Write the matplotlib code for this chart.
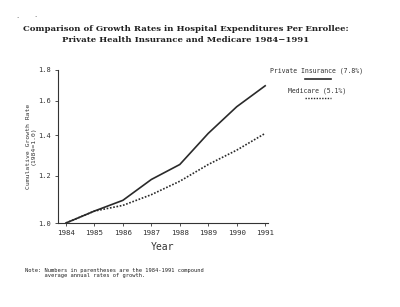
import matplotlib
matplotlib.use("Agg")
import matplotlib.pyplot as plt
from matplotlib.ticker import FixedLocator, NullLocator

years = [1984, 1985, 1986, 1987, 1988, 1989, 1990, 1991]
private_ins = [1.0, 1.047, 1.091, 1.182, 1.252, 1.411, 1.563, 1.694]
medicare = [1.0, 1.047, 1.070, 1.115, 1.174, 1.252, 1.323, 1.411]
yticks = [1.0, 1.2, 1.4, 1.6, 1.8]
ytick_labels = ["1.0", "1.2", "1.4", "1.6", "1.8"]

fig = plt.figure(figsize=(4.0, 3.07), dpi=100)
ax = fig.add_axes([58/400, 1-223/307, (268-58)/400, (223-70)/307])

ax.plot(years, private_ins, color="#2a2a2a", lw=1.2, solid_joinstyle="miter")
ax.plot(years, medicare, color="#2a2a2a", lw=1.2, linestyle=(0, (1, 1)))

ax.set_yscale("log")
ax.set_ylim(1.0, 1.8)
ax.set_xlim(1983.72, 1991.1)
ax.yaxis.set_major_locator(FixedLocator(yticks))
ax.yaxis.set_minor_locator(NullLocator())
ax.set_yticklabels(ytick_labels)
ax.set_xticks(years)
ax.set_xticklabels([str(y) for y in years])

mono = "DejaVu Sans Mono"
for lab in ax.get_xticklabels():
    lab.set_fontfamily(mono)
    lab.set_fontsize(5.4)
    lab.set_color("#333333")
for lab in ax.get_yticklabels():
    lab.set_fontfamily(mono)
    lab.set_fontsize(5.0)
    lab.set_color("#333333")
ax.tick_params(axis="both", length=2, width=0.6, color="#333333", pad=3)
for s in ["top", "right"]:
    ax.spines[s].set_visible(False)
for s in ["left", "bottom"]:
    ax.spines[s].set_linewidth(0.8)
    ax.spines[s].set_color("#333333")

ax.set_xlabel("Year", fontfamily=mono, fontsize=7, color="#333333", labelpad=4)
fig.text(31/400, 1-146/307, "Cumulative Growth Rate\n(1984=1.0)", rotation=90,
         ha="center", va="center", fontfamily=mono, fontsize=4.6, color="#333333",
         linespacing=1.0)

fig.text(186/400, 1-29/307,
         "Comparison of Growth Rates in Hospital Expenditures Per Enrollee:",
         ha="center", va="center", fontfamily="DejaVu Serif", fontsize=6.1,
         fontweight="bold", color="#222222")
fig.text(186/400, 1-40/307,
         "Private Health Insurance and Medicare 1984\u22121991",
         ha="center", va="center", fontfamily="DejaVu Serif", fontsize=6.1,
         fontweight="bold", color="#222222")

# stray marks near the top left
fig.text(17/400, 1-16/307, ".", fontsize=5, color="#444444", ha="center", va="center")
fig.text(35/400, 1-15/307, ".", fontsize=5, color="#444444", ha="center", va="center")

# legend
fig.text(317/400, 1-71/307, "Private Insurance (7.8%)", ha="center", va="center",
         fontfamily=mono, fontsize=4.7, color="#333333")
fig.lines.append(plt.Line2D([305/400, 331/400], [1-79/307, 1-79/307],
                            transform=fig.transFigure, color="#2a2a2a", lw=1.2))
fig.text(317/400, 1-91/307, "Medicare (5.1%)", ha="center", va="center",
         fontfamily=mono, fontsize=4.7, color="#333333")
fig.lines.append(plt.Line2D([305/400, 331/400], [1-98/307, 1-98/307],
                            transform=fig.transFigure, color="#2a2a2a", lw=1.0,
                            linestyle=(0, (1, 1))))

fig.text(25/400, 1-273/307,
         "Note: Numbers in parentheses are the 1984-1991 compound\n"
         "      average annual rates of growth.",
         ha="left", va="center", fontfamily=mono, fontsize=3.9, color="#222222",
         linespacing=1.1)

fig.savefig("out.png", dpi=100, facecolor="white")
